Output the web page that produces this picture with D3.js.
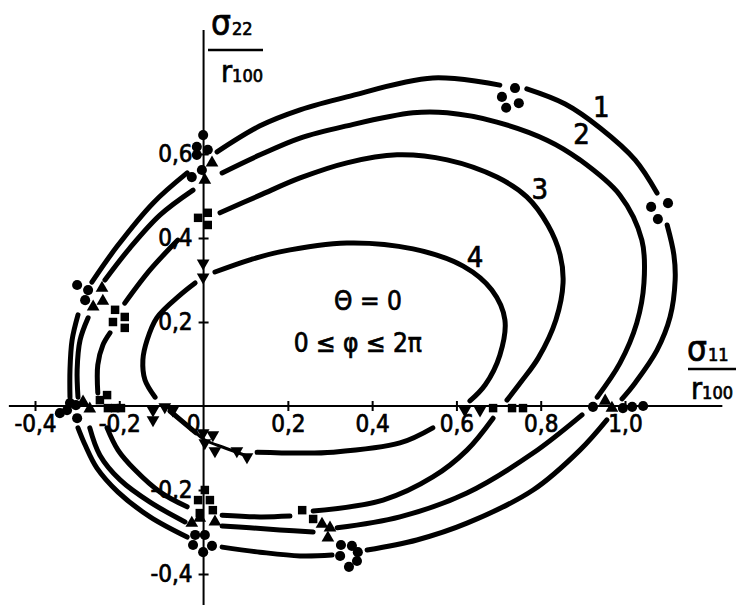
<!DOCTYPE html>
<html>
<head>
<meta charset="utf-8">
<script src="https://cdn.jsdelivr.net/npm/d3@7"></script>
<style>
  body { margin: 0; background: #fff; }
  svg { display: block; }
</style>
</head>
<body>
<svg id="chart" width="736" height="605"></svg>
<script>
// ---- axis ticks ----
const xTicks = [-0.4, -0.2, 0.2, 0.4, 0.6, 0.8, 1.0];
const yTicks = [-0.4, -0.2, 0.2, 0.4, 0.6];

// ---- stress contours (sigma11/r100, sigma22/r100), each split into arcs ----
const curve1 = [
  [[-0.265, 0.295], [-0.206, 0.379], [-0.120, 0.483], [-0.039, 0.555]],
  [[0.032, 0.605], [0.134, 0.667], [0.229, 0.705], [0.340, 0.736], [0.544, 0.781], [0.703, 0.764]],
  [[0.767, 0.755], [0.858, 0.719], [0.941, 0.662], [1.024, 0.586], [1.076, 0.507]],
  [[1.100, 0.431], [1.116, 0.360], [1.119, 0.300], [1.107, 0.212], [1.076, 0.133], [1.024, 0.055], [0.993, 0.017]],
  [[0.957, -0.033], [0.893, -0.105], [0.782, -0.200], [0.625, -0.279], [0.506, -0.319], [0.388, -0.343]],
  [[0.305, -0.355], [0.229, -0.357], [0.134, -0.348], [0.044, -0.336]],
  [[-0.039, -0.312], [-0.127, -0.264], [-0.203, -0.205], [-0.253, -0.148], [-0.281, -0.093], [-0.298, -0.052]],
  [[-0.317, 0.021], [-0.317, 0.086], [-0.312, 0.157], [-0.298, 0.217]]
];
const curve2 = [
  [[-0.234, 0.300], [-0.175, 0.376], [-0.103, 0.455], [-0.025, 0.514]],
  [[0.044, 0.555], [0.134, 0.598], [0.229, 0.638], [0.340, 0.667], [0.497, 0.698], [0.578, 0.698],
   [0.696, 0.676], [0.815, 0.633], [0.893, 0.586], [0.988, 0.502], [1.040, 0.395], [1.045, 0.293],
   [1.028, 0.198], [0.988, 0.102], [0.934, 0.021]],
  [[0.898, -0.021], [0.782, -0.112], [0.625, -0.207], [0.466, -0.264], [0.317, -0.290]],
  [[0.260, -0.300], [0.181, -0.295], [0.110, -0.290], [0.044, -0.286]],
  [[-0.044, -0.276], [-0.127, -0.229], [-0.198, -0.176], [-0.246, -0.117], [-0.270, -0.052]],
  [[-0.298, 0.021], [-0.300, 0.086], [-0.293, 0.157], [-0.274, 0.210]]
];
const curve3 = [
  [[0.039, 0.460], [0.134, 0.502], [0.229, 0.543], [0.340, 0.579], [0.459, 0.598], [0.578, 0.586],
   [0.696, 0.545], [0.767, 0.498], [0.817, 0.431], [0.846, 0.360], [0.853, 0.293], [0.836, 0.205],
   [0.794, 0.114], [0.753, 0.057], [0.720, 0.014]],
  [[0.687, -0.029], [0.625, -0.105], [0.544, -0.169], [0.426, -0.224], [0.260, -0.250]],
  [[0.205, -0.262], [0.134, -0.264], [0.044, -0.260]],
  [[-0.039, -0.240], [-0.103, -0.205], [-0.163, -0.152], [-0.203, -0.105], [-0.229, -0.052]],
  [[-0.251, 0.031], [-0.251, 0.098], [-0.239, 0.145], [-0.222, 0.174]],
  [[-0.187, 0.245], [-0.127, 0.324], [-0.061, 0.395]]
];
const curve4 = [
  [[0.027, 0.319], [0.110, 0.348], [0.181, 0.367], [0.340, 0.388], [0.497, 0.374], [0.616, 0.333],
   [0.684, 0.276], [0.715, 0.205], [0.703, 0.121], [0.668, 0.050], [0.632, 0.012]],
  [[0.544, -0.052], [0.466, -0.088], [0.307, -0.110], [0.229, -0.112], [0.127, -0.110]],
  [[-0.080, -0.012], [-0.018, -0.064]],
  [[-0.115, 0.021], [-0.139, 0.062], [-0.144, 0.110], [-0.134, 0.157], [-0.111, 0.210], [-0.056, 0.264], [-0.020, 0.293]]
];
// short thin trace of contour 4 running through its markers
const curve4Link = [[-0.018, -0.064], [0.003, -0.081], [0.051, -0.100], [0.103, -0.119]];

// ---- measured points ----
const circles = [
  [0.739, 0.757], [0.708, 0.736], [0.748, 0.721], [0.718, 0.710],
  [1.062, 0.474], [1.102, 0.483], [1.078, 0.445],
  [0.924, -0.002], [0.995, -0.005], [1.017, -0.002], [1.043, 0.000],
  [0.326, -0.331], [0.352, -0.333], [0.366, -0.348], [0.324, -0.357], [0.364, -0.369], [0.345, -0.383],
  [-0.020, -0.307], [0.003, -0.307], [-0.025, -0.331], [0.020, -0.333], [-0.001, -0.348],
  [-0.341, -0.017], [-0.317, 0.007], [-0.324, -0.010], [-0.300, -0.029], [-0.303, 0.002],
  [-0.300, 0.288], [-0.274, 0.276], [-0.281, 0.252],
  [-0.001, 0.645], [-0.016, 0.617], [0.010, 0.610], [-0.016, 0.598], [-0.004, 0.562], [-0.028, 0.545]
];
const trianglesUp = [
  [0.020, 0.579], [0.003, 0.538],
  [-0.241, 0.281], [-0.239, 0.250], [-0.262, 0.236],
  [-0.286, 0.010], [-0.270, -0.007],
  [0.953, 0.012], [0.969, -0.005],
  [0.281, -0.281], [0.300, -0.290], [0.295, -0.314],
  [-0.028, -0.279], [-0.009, -0.267], [0.027, -0.276]
];
const squares = [
  [0.010, 0.460], [-0.013, 0.448], [0.010, 0.431],
  [-0.210, 0.229], [-0.187, 0.212], [-0.215, 0.200], [-0.187, 0.186],
  [-0.246, 0.014], [-0.229, 0.026], [-0.227, -0.005], [-0.210, -0.005], [-0.196, -0.005],
  [0.687, -0.005], [0.732, -0.005], [0.758, -0.005],
  [0.234, -0.248], [0.260, -0.269],
  [0.003, -0.200], [-0.013, -0.224], [0.015, -0.224], [0.022, -0.248], [-0.009, -0.255]
];
const trianglesDown = [
  [-0.001, 0.340], [-0.001, 0.307],
  [0.620, -0.010], [0.656, -0.010],
  [-0.120, -0.010], [-0.092, -0.002], [-0.073, -0.010], [-0.120, -0.033],
  [-0.001, -0.064], [0.022, -0.069], [0.003, -0.088], [0.027, -0.107], [0.079, -0.107], [0.103, -0.121]
];

// ---- annotations ----
const curveNames = ["1", "2", "3", "4"];
const curveNameAt = [[0.944, 0.714], [0.897, 0.648], [0.798, 0.517], [0.644, 0.355]];
const conditionLines = ["\u0398 = 0", "0 \u2264 \u03C6 \u2264 2\u03C0"];

// ---------------------------------------------------------------
const FONT = '"DejaVu Sans Condensed","Liberation Sans Narrow","DejaVu Sans",sans-serif';
const svg = d3.select("#chart");

const x = d3.scaleLinear().domain([-0.4, 1.0]).range([35, 625]);
const y = d3.scaleLinear().domain([-0.4, 0.6]).range([574, 154]);

const fmt = v => d3.format(".1f")(v).replace(".", ",").replace("\u2212", "-");

// heavier lettering, like a stencil-drawn figure
function ink(sel) {
  return sel.attr("font-family", FONT).attr("font-stretch", "condensed")
    .attr("fill", "#000").attr("stroke", "#000").attr("stroke-width", 0.7);
}

// axis lines running past the tick range
svg.append("line")
  .attr("x1", x(-0.462)).attr("x2", x(1.231))
  .attr("y1", y(0)).attr("y2", y(0))
  .attr("stroke", "#000").attr("stroke-width", 2);
svg.append("line")
  .attr("x1", x(0)).attr("x2", x(0))
  .attr("y1", y(0.895)).attr("y2", y(-0.49))
  .attr("stroke", "#000").attr("stroke-width", 2);

// x axis
const gx = svg.append("g")
  .attr("transform", `translate(0,${y(0)})`)
  .call(d3.axisBottom(x).tickValues(xTicks).tickSize(5).tickPadding(4).tickFormat(fmt));
gx.select(".domain").remove();
gx.selectAll(".tick line").attr("y1", -5).attr("stroke-width", 2);
ink(gx.selectAll(".tick text")).attr("font-size", 24);

// y axis
const gy = svg.append("g")
  .attr("transform", `translate(${x(0)},0)`)
  .call(d3.axisLeft(y).tickValues(yTicks).tickSize(5).tickPadding(6).tickFormat(fmt));
gy.select(".domain").remove();
gy.selectAll(".tick line").attr("x1", 5).attr("stroke-width", 2);
ink(gy.selectAll(".tick text")).attr("font-size", 24);

// origin label
ink(svg.append("text"))
  .attr("x", x(0) - 3).attr("y", y(0) + 26)
  .attr("text-anchor", "end")
  .attr("font-size", 24)
  .text(fmt(0).replace(",0", ""));

// contours
const line = d3.line()
  .x(d => x(d[0])).y(d => y(d[1]))
  .curve(d3.curveCatmullRom.alpha(0.5));

const allSegments = [...curve1, ...curve2, ...curve3, ...curve4];
svg.append("g")
  .selectAll("path")
  .data(allSegments)
  .join("path")
  .attr("d", line)
  .attr("fill", "none")
  .attr("stroke", "#000")
  .attr("stroke-width", 5)
  .attr("stroke-linecap", "round");

svg.append("path")
  .datum(curve4Link)
  .attr("d", line)
  .attr("fill", "none")
  .attr("stroke", "#000")
  .attr("stroke-width", 3)
  .attr("stroke-linecap", "round");

// markers
function drawMarkers(data, type, size, rotate) {
  svg.append("g")
    .selectAll("path")
    .data(data)
    .join("path")
    .attr("d", d3.symbol(type, size))
    .attr("transform", d => `translate(${x(d[0])},${y(d[1])})${rotate ? " rotate(180)" : ""}`)
    .attr("fill", "#000");
}
drawMarkers(circles, d3.symbolCircle, 80, false);
drawMarkers(trianglesUp, d3.symbolTriangle, 70, false);
drawMarkers(squares, d3.symbolSquare, 72, false);
drawMarkers(trianglesDown, d3.symbolTriangle, 70, true);

// contour numbers
ink(svg.append("g")
  .selectAll("text")
  .data(curveNames)
  .join("text"))
  .attr("x", (d, i) => x(curveNameAt[i][0]))
  .attr("y", (d, i) => y(curveNameAt[i][1]))
  .attr("dy", "0.36em")
  .attr("text-anchor", "middle")
  .attr("font-size", 29)
  .text(d => d);

// loading condition
ink(svg.append("g")
  .selectAll("text")
  .data(conditionLines)
  .join("text"))
  .attr("x", (d, i) => i === 0 ? x(0.39) : x(0.366))
  .attr("y", (d, i) => i === 0 ? y(0.228) : y(0.128))
  .attr("text-anchor", "middle")
  .attr("font-size", 26)
  .text(d => d);

// axis titles as fractions
function fraction(o) {
  const g = svg.append("g");
  const t1 = ink(g.append("text")).attr("x", o.left).attr("y", o.top);
  t1.append("tspan").attr("font-size", 35).text("\u03C3");
  t1.append("tspan").attr("font-size", 18).attr("dx", 1).text(o.sub);
  g.append("line")
    .attr("x1", o.barLeft).attr("x2", o.barLeft + o.barW)
    .attr("y1", o.bar).attr("y2", o.bar)
    .attr("stroke", "#000").attr("stroke-width", 2.5);
  const t2 = ink(g.append("text")).attr("x", o.rLeft).attr("y", o.bottom);
  t2.append("tspan").attr("font-size", 30).text("r");
  t2.append("tspan").attr("font-size", 18).text("100");
}
fraction({ left: 211, top: 35, sub: "22", barLeft: 208, barW: 55, bar: 50, rLeft: 221, bottom: 82 });
fraction({ left: 687, top: 361, sub: "11", barLeft: 688, barW: 48, bar: 369, rLeft: 691, bottom: 399 });
</script>
</body>
</html>
